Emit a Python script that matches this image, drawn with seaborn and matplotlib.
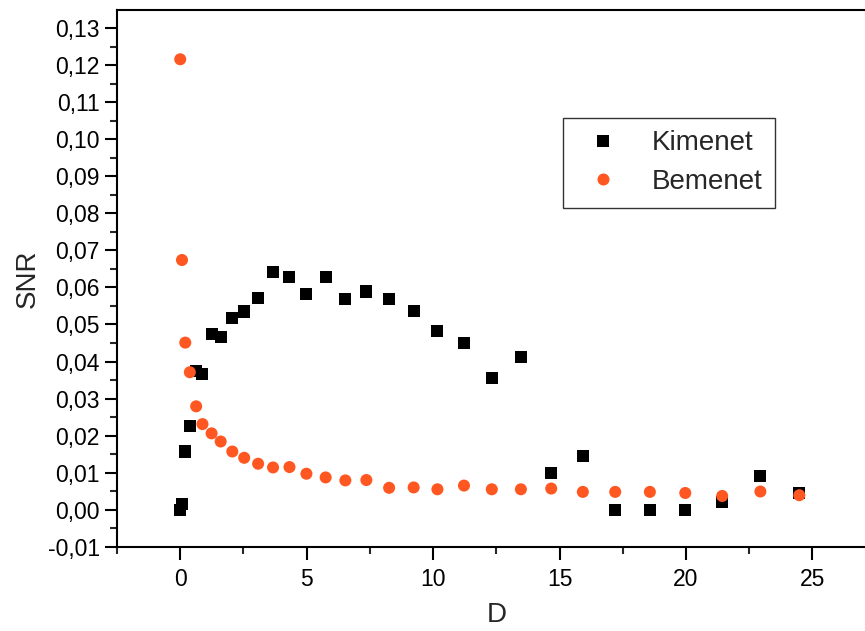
import matplotlib
matplotlib.use("Agg")
import matplotlib.pyplot as plt
from matplotlib.ticker import MultipleLocator, FuncFormatter
import seaborn as sns
import pandas as pd

# D values (shared by both series)
d_values = [0.0, 0.07, 0.2, 0.38, 0.63, 0.88, 1.24, 1.6, 2.06, 2.53, 3.08,
            3.67, 4.32, 4.99, 5.75, 6.53, 7.36, 8.26, 9.23, 10.17, 11.22,
            12.32, 13.47, 14.67, 15.92, 17.2, 18.57, 19.97, 21.43, 22.94, 24.48]

kimenet = [0.0000, 0.0014, 0.0157, 0.0226, 0.0374, 0.0367, 0.0475, 0.0466,
           0.0518, 0.0535, 0.0572, 0.0642, 0.0627, 0.0583, 0.0628, 0.0570,
           0.0589, 0.0568, 0.0536, 0.0483, 0.0449, 0.0355, 0.0411, 0.0098,
           0.0145, 0.0000, 0.0000, 0.0000, 0.0020, 0.0090, 0.0045]

bemenet = [0.1216, 0.0674, 0.0451, 0.0371, 0.0279, 0.0231, 0.0206, 0.0184,
           0.0157, 0.0140, 0.0124, 0.0114, 0.0115, 0.0097, 0.0087, 0.0079,
           0.0080, 0.0059, 0.0060, 0.0055, 0.0065, 0.0055, 0.0055, 0.0057,
           0.0048, 0.0048, 0.0048, 0.0045, 0.0037, 0.0049, 0.0039]

series_names = ["Kimenet", "Bemenet"]

df = pd.concat([
    pd.DataFrame({"D": d_values, "SNR": kimenet, "series": series_names[0]}),
    pd.DataFrame({"D": d_values, "SNR": bemenet, "series": series_names[1]}),
], ignore_index=True)

sns.set_style("ticks")
plt.rcParams["font.family"] = ["Liberation Sans", "DejaVu Sans"]

fig = plt.figure(figsize=(8.65, 6.31), dpi=100)
ax = fig.add_axes([117 / 865, 1 - 546.7 / 631, (875.7 - 117) / 865, (546.7 - 10) / 631])

sns.scatterplot(data=df, x="D", y="SNR", hue="series", style="series",
                hue_order=series_names, style_order=series_names,
                palette={"Kimenet": "black", "Bemenet": "#ff5722"},
                markers={"Kimenet": "s", "Bemenet": "o"},
                s=75, linewidth=0, ax=ax)

ax.set_xlim(-2.5, 27.5)
ax.set_ylim(-0.01, 0.1349)

ax.xaxis.set_major_locator(MultipleLocator(5))
ax.xaxis.set_minor_locator(MultipleLocator(2.5))
ax.yaxis.set_major_locator(MultipleLocator(0.01))
ax.yaxis.set_minor_locator(MultipleLocator(0.005))
ax.yaxis.set_major_formatter(FuncFormatter(lambda v, p: f"{v:.2f}".replace(".", ",").replace("-0,00", "0,00")))

ax.tick_params(which="major", direction="out", length=9, width=1.5, labelsize=16.5, colors="black")
ax.tick_params(axis="x", which="major", pad=6)
ax.tick_params(which="minor", direction="out", length=5, width=1.5)
ax.tick_params(top=False, right=False)

for side in ["left", "bottom", "top"]:
    ax.spines[side].set_linewidth(1.5)
    ax.spines[side].set_color("black")
ax.spines["right"].set_visible(False)

ax.set_xlabel("D", fontsize=20, va="center")
ax.set_ylabel("SNR", fontsize=20, va="center")
ax.xaxis.set_label_coords(0.5, -0.127)
ax.yaxis.set_label_coords(-0.117, 0.5)

handles, labels = ax.get_legend_handles_labels()
ax.legend(handles=handles, labels=labels, loc="upper left",
          bbox_to_anchor=(563 / 865, 1 - 118 / 631), bbox_transform=fig.transFigure,
          fontsize=20, frameon=True, fancybox=False, edgecolor="#333333",
          framealpha=1, borderpad=0.45, labelspacing=0.45, handlelength=2.0,
          handletextpad=0.75, borderaxespad=0, markerscale=1.0)
ax.get_legend().get_frame().set_linewidth(1.0)

fig.savefig("out.png", dpi=100)
